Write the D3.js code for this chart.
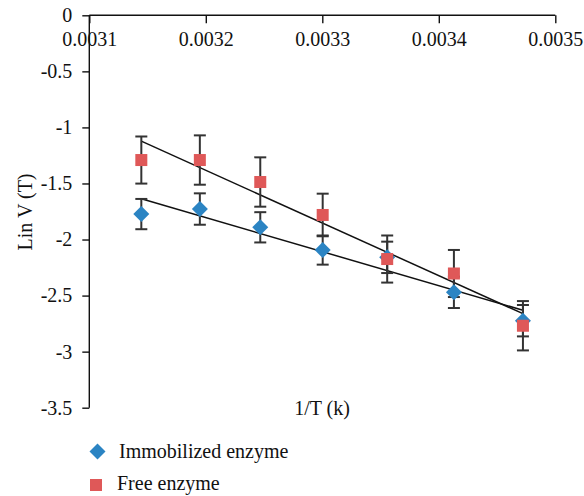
<!DOCTYPE html>
<html>
<head>
<meta charset="utf-8">
<script src="https://cdn.jsdelivr.net/npm/d3@7"></script>
<style>
  html, body { margin: 0; padding: 0; background: #fff; }
  svg, svg text { font-family: "Liberation Serif", "Times New Roman", serif; }
</style>
</head>
<body>
<svg id="chart" width="584" height="496"></svg>
<script>
// ---- data ----
const temps = [318, 313, 308, 303, 298, 293, 288];           // K
const invT = temps.map(t => 1 / t);                           // 1/T
const immobilized = [-1.773, -1.728, -1.891, -2.094, -2.159, -2.471, -2.724];
const immobilizedErr = [0.135, 0.14, 0.135, 0.13, 0.14, 0.14, 0.14];
const free = [-1.291, -1.291, -1.487, -1.781, -2.174, -2.303, -2.769];
const freeErr = [0.21, 0.22, 0.22, 0.19, 0.21, 0.21, 0.22];
const xTicks = [0.0031, 0.0032, 0.0033, 0.0034, 0.0035];
const yTicks = [0, -0.5, -1, -1.5, -2, -2.5, -3, -3.5];
const seriesNames = ["Immobilized enzyme", "Free enzyme"];
const colors = ["#2B84C3", "#DF5858"];

// ---- layout ----
const svg = d3.select("#chart");
const x = d3.scaleLinear().domain([0.0031, 0.0035]).range([89.3, 555.3]);
const y = d3.scaleLinear().domain([0, -3.5]).range([15.3, 407.7]);

// axes
const yAxis = svg.append("g").attr("transform", `translate(${x(0.0031)},0)`)
  .call(d3.axisLeft(y).tickValues(yTicks).tickSize(7).tickPadding(10).tickFormat(d => String(d)));
const xAxis = svg.append("g").attr("transform", `translate(0,${y(0)})`)
  .call(d3.axisBottom(x).tickValues(xTicks).tickSize(8).tickPadding(14).tickFormat(d3.format(".4f")));
[xAxis, yAxis].forEach(g => {
  g.attr("font-family", null).attr("font-size", null);
  g.select(".domain").attr("stroke", "#111").attr("stroke-width", 1.4);
  g.selectAll(".tick line").attr("stroke", "#111").attr("stroke-width", 1.4);
  g.selectAll("text").attr("fill", "#111").style("font-size", "20px");
});
yAxis.select(".domain").attr("d", `M0,${y(0)}V${y(-3.5)}`);
xAxis.select(".domain").attr("d", `M${x(0.0031)},0H${x(0.0035)}`);
xAxis.selectAll("text").attr("dy", null).attr("y", 31);

// axis titles
svg.append("text").attr("transform", `translate(32,212) rotate(-90)`)
  .attr("text-anchor", "middle").style("font-size", "20px").attr("fill", "#111")
  .text("Lin V (T)");
svg.append("text").attr("x", 322).attr("y", 415)
  .attr("text-anchor", "middle").style("font-size", "20px").attr("fill", "#111")
  .text("1/T (k)");

// regression trend lines
function fit(xs, ys) {
  const mx = d3.mean(xs), my = d3.mean(ys);
  const b = d3.sum(xs, (v, i) => (v - mx) * (ys[i] - my)) / d3.sum(xs, v => (v - mx) ** 2);
  const a = my - b * mx;
  const x0 = d3.min(xs), x1 = d3.max(xs);
  return [[x0, a + b * x0], [x1, a + b * x1]];
}
const line = d3.line().x(d => x(d[0])).y(d => y(d[1]));
[immobilized, free].forEach(vals => {
  svg.append("path").attr("d", line(fit(invT, vals)))
    .attr("fill", "none").attr("stroke", "#111").attr("stroke-width", 1.5);
});

// error bars
function errorBars(vals, errs) {
  const g = svg.append("g").attr("stroke", "#333").attr("stroke-width", 2);
  vals.forEach((v, i) => {
    const cx = x(invT[i]);
    g.append("line").attr("x1", cx).attr("x2", cx).attr("y1", y(v - errs[i])).attr("y2", y(v + errs[i]));
    g.append("line").attr("x1", cx - 6).attr("x2", cx + 6).attr("y1", y(v - errs[i])).attr("y2", y(v - errs[i]));
    g.append("line").attr("x1", cx - 6).attr("x2", cx + 6).attr("y1", y(v + errs[i])).attr("y2", y(v + errs[i]));
  });
}
errorBars(immobilized, immobilizedErr);
errorBars(free, freeErr);

// markers
const diamond = d3.symbol().type(d3.symbolSquare).size(128);
svg.append("g").selectAll("path").data(immobilized).join("path")
  .attr("d", diamond)
  .attr("transform", (d, i) => `translate(${x(invT[i])},${y(d)}) rotate(45)`)
  .attr("fill", colors[0]);
svg.append("g").selectAll("rect").data(free).join("rect")
  .attr("x", (d, i) => x(invT[i]) - 6).attr("y", d => y(d) - 6)
  .attr("width", 12).attr("height", 12).attr("fill", colors[1]);

// legend
const leg = svg.append("g");
leg.append("path").attr("d", diamond).attr("transform", "translate(97.5,451.5) rotate(45)").attr("fill", colors[0]);
leg.append("text").attr("x", 119).attr("y", 458).style("font-size", "20px").attr("fill", "#111").text(seriesNames[0]);
leg.append("rect").attr("x", 90).attr("y", 479).attr("width", 12).attr("height", 12).attr("fill", colors[1]);
leg.append("text").attr("x", 117).attr("y", 490).style("font-size", "20px").attr("fill", "#111").text(seriesNames[1]);
</script>
</body>
</html>
